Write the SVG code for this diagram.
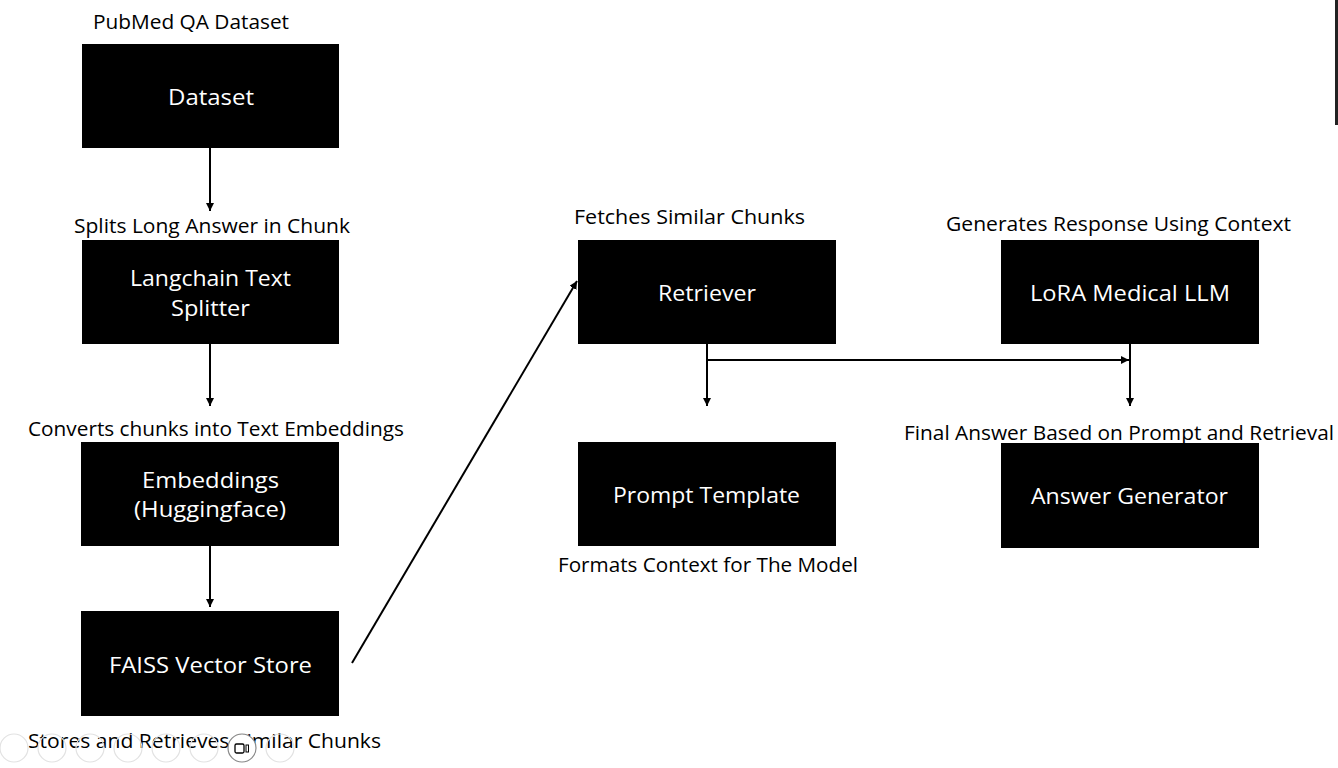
<svg xmlns="http://www.w3.org/2000/svg" width="1338" height="768" viewBox="0 0 1338 768">
<defs>
<style>
.box{fill:#000}
.bt{font-family:"Open Sans","Noto Sans","Liberation Sans",sans-serif;font-size:22px;fill:#fff;text-anchor:middle}
.lb{font-family:"Open Sans","Noto Sans","Liberation Sans",sans-serif;font-size:20px;fill:#000}
.cn{stroke:#000;stroke-width:2;fill:none}
.ui{fill:none;stroke:#e2e2e2;stroke-width:1.2}
</style>
<marker id="ah" markerWidth="8" markerHeight="8" viewBox="0 0 8 8" refX="8" refY="4" orient="auto" markerUnits="userSpaceOnUse">
<path d="M0,0 L8,4 L0,8 Z" fill="#000"/>
</marker>
</defs>
<rect width="1338" height="768" fill="#fff"/>

<g id="dataset">
<text class="lb" x="93" y="29" textLength="196" lengthAdjust="spacingAndGlyphs">PubMed QA Dataset</text>
<rect class="box" x="82" y="44" width="257" height="104"/>
<text class="bt" x="211" y="105" textLength="86" lengthAdjust="spacingAndGlyphs">Dataset</text>
</g>

<g id="splitter">
<text class="lb" x="74" y="233" textLength="276" lengthAdjust="spacingAndGlyphs">Splits Long Answer in Chunk</text>
<rect class="box" x="82" y="240" width="257" height="104"/>
<text class="bt" x="210.5" y="286" textLength="161" lengthAdjust="spacingAndGlyphs">Langchain Text</text>
<text class="bt" x="210.5" y="316" textLength="79" lengthAdjust="spacingAndGlyphs">Splitter</text>
</g>

<g id="embeddings">
<text class="lb" x="28" y="436" textLength="376" lengthAdjust="spacingAndGlyphs">Converts chunks into Text Embeddings</text>
<rect class="box" x="81" y="442" width="258" height="104"/>
<text class="bt" x="210.5" y="488" textLength="137" lengthAdjust="spacingAndGlyphs">Embeddings</text>
<text class="bt" x="210" y="517" textLength="152" lengthAdjust="spacingAndGlyphs">(Huggingface)</text>
</g>

<g id="faiss">
<rect class="box" x="81" y="611" width="258" height="105"/>
<text class="bt" x="210.5" y="673" textLength="203" lengthAdjust="spacingAndGlyphs">FAISS Vector Store</text>
<text class="lb" x="28" y="748" textLength="353" lengthAdjust="spacingAndGlyphs">Stores and Retrieves Similar Chunks</text>
</g>

<g id="retriever">
<text class="lb" x="574" y="224" textLength="231" lengthAdjust="spacingAndGlyphs">Fetches Similar Chunks</text>
<rect class="box" x="578" y="240" width="258" height="104"/>
<text class="bt" x="707" y="301" textLength="98" lengthAdjust="spacingAndGlyphs">Retriever</text>
</g>

<g id="prompt">
<rect class="box" x="578" y="442" width="258" height="104"/>
<text class="bt" x="706.5" y="503" textLength="187" lengthAdjust="spacingAndGlyphs">Prompt Template</text>
<text class="lb" x="558" y="572" textLength="300" lengthAdjust="spacingAndGlyphs">Formats Context for The Model</text>
</g>

<g id="lora">
<text class="lb" x="946" y="231" textLength="345" lengthAdjust="spacingAndGlyphs">Generates Response Using Context</text>
<rect class="box" x="1001" y="240" width="258" height="104"/>
<text class="bt" x="1130" y="301" textLength="200" lengthAdjust="spacingAndGlyphs">LoRA Medical LLM</text>
</g>

<g id="answer">
<text class="lb" x="904" y="440" textLength="430" lengthAdjust="spacingAndGlyphs">Final Answer Based on Prompt and Retrieval</text>
<rect class="box" x="1001" y="443" width="258" height="105"/>
<text class="bt" x="1129.5" y="504" textLength="197" lengthAdjust="spacingAndGlyphs">Answer Generator</text>
</g>

<g id="connectors">
<line class="cn" x1="210" y1="148" x2="210" y2="211" marker-end="url(#ah)"/>
<line class="cn" x1="210" y1="344" x2="210" y2="406" marker-end="url(#ah)"/>
<line class="cn" x1="210" y1="546" x2="210" y2="607" marker-end="url(#ah)"/>
<line class="cn" x1="352" y1="663" x2="577" y2="281" marker-end="url(#ah)"/>
<line class="cn" x1="707" y1="344" x2="707" y2="406" marker-end="url(#ah)"/>
<line class="cn" x1="707" y1="360" x2="1129" y2="360" marker-end="url(#ah)"/>
<line class="cn" x1="1130" y1="344" x2="1130" y2="406" marker-end="url(#ah)"/>
</g>

<g id="viewer-ui">
<circle class="ui" cx="14" cy="748" r="14"/>
<circle class="ui" cx="52" cy="748" r="14"/>
<circle class="ui" cx="90" cy="748" r="14"/>
<circle class="ui" cx="128" cy="748" r="14"/>
<circle class="ui" cx="166" cy="748" r="14"/>
<circle class="ui" cx="204" cy="748" r="14"/>
<circle cx="242" cy="748" r="14" fill="#fff" stroke="#888" stroke-width="1.2"/>
<rect x="235" y="744" width="9" height="9" rx="1.5" fill="none" stroke="#000" stroke-width="1.3"/>
<rect x="246" y="745" width="2.5" height="7" fill="none" stroke="#000" stroke-width="1"/>
<circle class="ui" cx="280" cy="748" r="14"/>
<rect x="1335" y="0" width="3" height="125" fill="#222"/>
</g>
</svg>
